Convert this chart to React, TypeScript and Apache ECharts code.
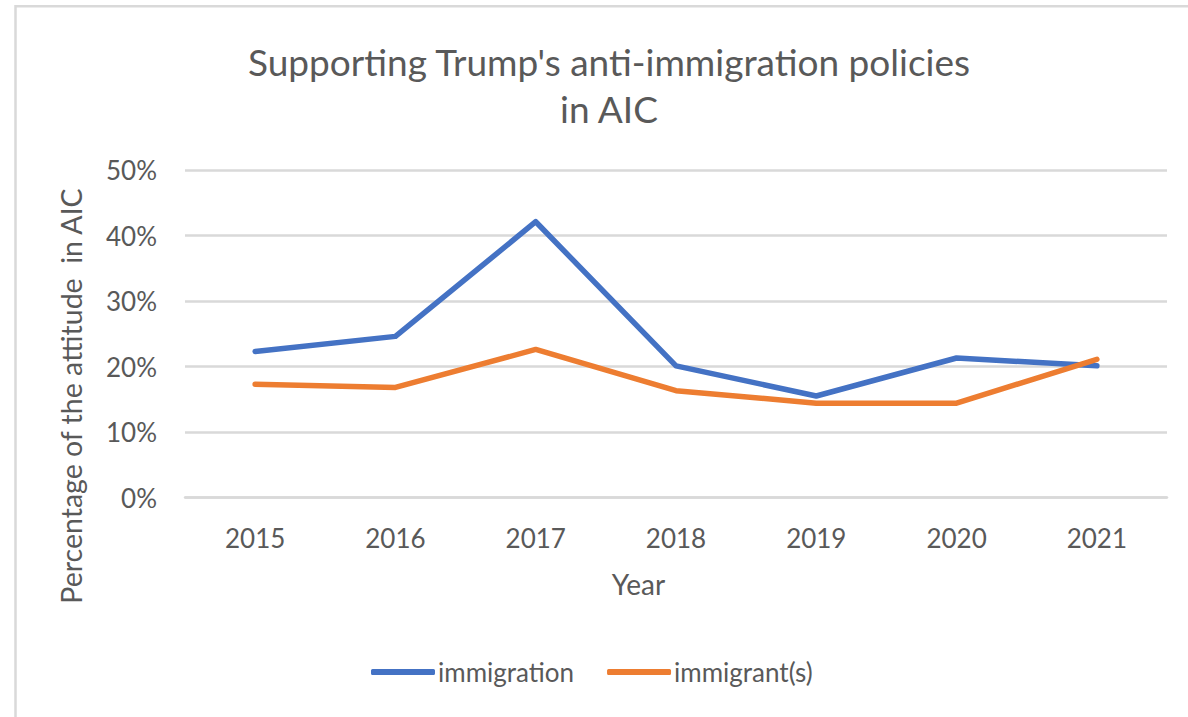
import React, { useEffect, useRef } from "react";
import * as echarts from "echarts";

const years = ["2015", "2016", "2017", "2018", "2019", "2020", "2021"];
const immigration = [22.3, 24.6, 42.1, 20.1, 15.5, 21.3, 20.1];
const immigrants = [17.3, 16.8, 22.6, 16.3, 14.4, 14.4, 21.1];
const seriesNames = ["immigration", "immigrant(s)"];
const titleLines = ["Supporting Trump's anti-immigration policies", "in AIC"];
const xAxisName = "Year";
const yAxisName = "Percentage of the attitude  in AIC";

const FONT = "Lato";
const TEXT = "#595959";

export default function App() {
  const ref = useRef<HTMLDivElement>(null);
  useEffect(() => {
    document.body.style.margin = "0";
    const chart = echarts.init(ref.current!, null, { renderer: "svg" });
    chart.setOption({
      animation: false,
      backgroundColor: "#ffffff",
      textStyle: { fontFamily: FONT, color: TEXT },
      title: {
        text: titleLines.join("\n"),
        left: 604,
        textAlign: "center",
        top: 33,
        textStyle: { fontFamily: FONT, fontSize: 37, fontWeight: "normal", color: TEXT, lineHeight: 47 },
      },
      graphic: [
        {
          type: "rect",
          shape: { x: 15.5, y: 6.3, width: 1400, height: 1000 },
          style: { fill: "none", stroke: "#d9d9d9", lineWidth: 2.5 },
          silent: true,
        },
        {
          type: "text",
          x: 638.5,
          y: 584,
          style: { text: xAxisName, fontFamily: FONT, fontSize: 28, fill: TEXT, align: "center", verticalAlign: "middle" },
          silent: true,
        },
        {
          type: "text",
          x: 70.5,
          y: 396,
          rotation: Math.PI / 2,
          style: { text: yAxisName, fontFamily: FONT, fontSize: 28.5, fill: TEXT, align: "center", verticalAlign: "middle" },
          silent: true,
        },
      ],
      grid: { left: 185, right: 21, top: 170, bottom: 219.5 },
      legend: {
        data: seriesNames,
        top: 654,
        left: 366,
        icon: "roundRect",
        itemWidth: 64,
        itemHeight: 6,
        itemGap: 33,
        textStyle: { fontFamily: FONT, fontSize: 26, color: TEXT, padding: [0, 0, 0, -2] },
      },
      xAxis: {
        type: "category",
        data: years,
        boundaryGap: true,
        axisLine: { show: true, lineStyle: { color: "#d9d9d9", width: 2.5 } },
        axisTick: { show: false },
        axisLabel: { fontFamily: FONT, fontSize: 26, color: TEXT, margin: 27 },
      },
      yAxis: {
        type: "value",
        min: 0,
        max: 50,
        interval: 10,
        axisLine: { show: false },
        axisTick: { show: false },
        axisLabel: { fontFamily: FONT, fontSize: 26, color: TEXT, margin: 28, formatter: "{value}%" },
        splitLine: { lineStyle: { color: "#d9d9d9", width: 2.5 } },
      },
      series: [
        {
          name: seriesNames[0],
          type: "line",
          data: immigration,
          symbol: "none",
          color: "#4472C4",
          lineStyle: { width: 5.5, color: "#4472C4", cap: "round", join: "round" },
        },
        {
          name: seriesNames[1],
          type: "line",
          data: immigrants,
          symbol: "none",
          color: "#ED7D31",
          lineStyle: { width: 5.5, color: "#ED7D31", cap: "round", join: "round" },
        },
      ],
    });
    return () => chart.dispose();
  }, []);
  return <div ref={ref} style={{ width: 1188, height: 717 }} />;
}
